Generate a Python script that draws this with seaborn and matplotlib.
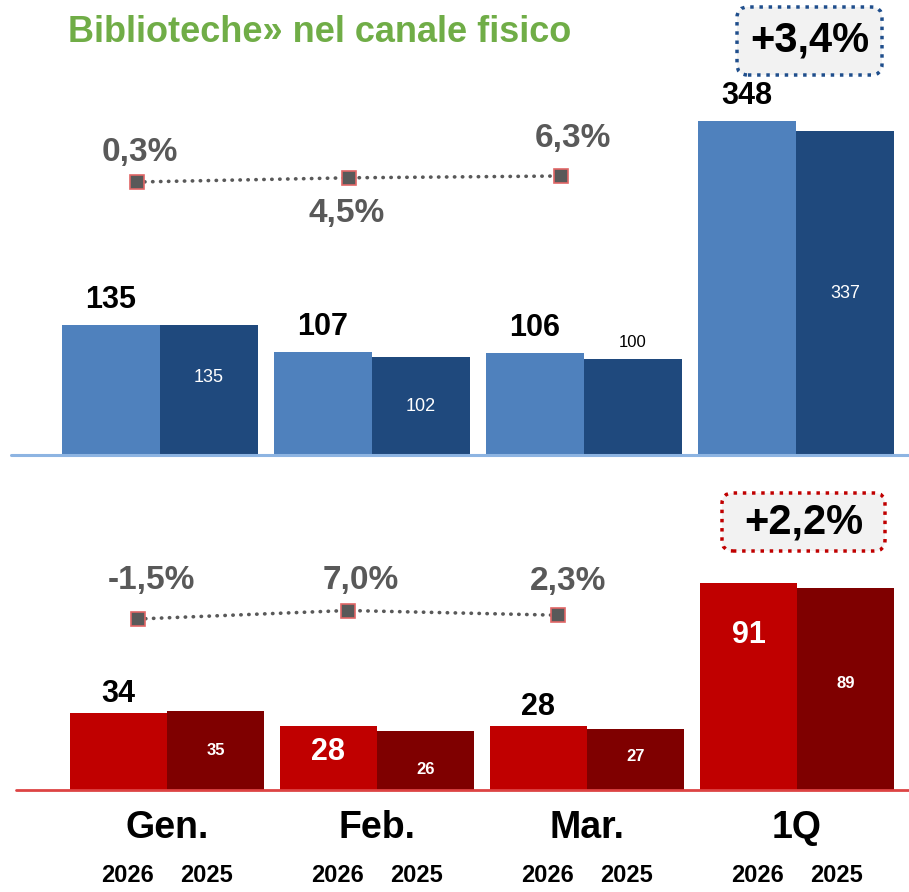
import matplotlib
matplotlib.use('Agg')
import matplotlib.pyplot as plt
from matplotlib.patches import FancyBboxPatch
import seaborn as sns
import pandas as pd

# dati
mesi = ['Gen.', 'Feb.', 'Mar.', '1Q']
anni = ['2026', '2025']
top_2026 = [135, 107, 106, 348]
top_2025 = [135, 102, 100, 337]
top_var = [0.3, 4.5, 6.3]
bot_2026 = [34, 28, 28, 91]
bot_2025 = [35, 26, 27, 89]
bot_var = [-1.5, 7.0, 2.3]
top_tot = '+3,4%'
bot_tot = '+2,2%'
titolo = 'Biblioteche» nel canale fisico'

sns.set_theme(style='white')
FONT = ['Liberation Sans', 'DejaVu Sans']
plt.rcParams['font.family'] = FONT

W, H = 909, 892
fig = plt.figure(figsize=(W / 100, H / 100), dpi=100)


def px_ax(left, top, right, bottom):
    return fig.add_axes([left / W, 1 - bottom / H, (right - left) / W, (bottom - top) / H])


def pct(v):
    return f'{v:.1f}%'.replace('.', ',')


def barre(ax, v26, v25, colori):
    df = pd.DataFrame({'mese': mesi * 2,
                       'anno': [anni[0]] * 4 + [anni[1]] * 4,
                       'valore': v26 + v25})
    sns.barplot(data=df, x='mese', y='valore', hue='anno', order=mesi,
                hue_order=anni, palette=colori, saturation=1, width=0.925,
                gap=0, legend=False, errorbar=None, linewidth=0, ax=ax)


def etichette(ax, cont, valori, stili):
    for bar, v, (anchor, dy, col, fs, fw) in zip(cont, valori, stili):
        cx = bar.get_x() + bar.get_width() / 2
        y = bar.get_height() if anchor == 'top' else bar.get_height() / 2
        ax.annotate(str(v), (cx, y), xytext=(0, dy), textcoords='offset pixels',
                    ha='center', va='center', color=col, fontsize=fs, fontweight=fw)


def linea(ax, var, dx, ylim, offs):
    ax2 = ax.twinx()
    xs = [i + dx for i in range(len(var))]
    sns.lineplot(x=xs, y=var, ax=ax2, color='#595959', lw=2.6,
                 linestyle=(0, (0.1, 2.1)), dash_capstyle='round',
                 marker='s', markersize=10, markerfacecolor='#595959',
                 markeredgecolor='#E06666', markeredgewidth=1.2)
    ax2.set_ylim(*ylim)
    ax2.axis('off')
    for x, v, (ox, oy) in zip(xs, var, offs):
        ax2.annotate(pct(v), (x, v), xytext=(ox, oy), textcoords='offset pixels',
                     ha='center', va='center', color='#595959', fontsize=24,
                     fontweight='bold')


# pannello superiore
ax = px_ax(11, 0, 909, 455)
barre(ax, top_2026, top_2025, ['#4F81BD', '#1F497D'])
ax.set_xlim(-0.703, 3.533)
ax.set_ylim(0, 473.5)
ax.axis('off')
ax.axhline(0, color='#8DB4E2', lw=2.2, clip_on=False)
etichette(ax, ax.containers[0], top_2026,
          [('top', 25, 'black', 22, 'bold')] * 4)
etichette(ax, ax.containers[1], top_2025,
          [('mid', 13, 'white', 13, 'normal'), ('mid', -1, 'white', 13, 'normal'),
           ('top', 16, 'black', 12, 'normal'), ('mid', 0, 'white', 13, 'normal')])
linea(ax, top_var, -0.11, (-272.7, 182.3), [(3, 30), (-2, -36), (12, 38)])

# pannello inferiore
bx = px_ax(16, 470, 909, 790)
barre(bx, bot_2026, bot_2025, ['#C00000', '#7F0000'])
bx.set_xlim(-0.719, 3.533)
bx.set_ylim(0, 141)
bx.axis('off')
bx.axhline(0, color='#DD4444', lw=2, clip_on=False)
etichette(bx, bx.containers[0], bot_2026,
          [('top', 19, 'black', 22, 'bold'), ('top', -26, 'white', 22, 'bold'),
           ('top', 19, 'black', 22, 'bold'), ('top', -52, 'white', 22, 'bold')])
etichette(bx, bx.containers[1], bot_2025,
          [('mid', 0, 'white', 12, 'bold'), ('mid', -9, 'white', 12, 'bold'),
           ('mid', 3, 'white', 12, 'bold'), ('mid', 6, 'white', 12, 'bold')])
linea(bx, bot_var, -0.14, (-172.5, 147.5), [(14, 39), (13, 30), (10, 34)])

# etichette categorie e anni
for i, m in enumerate(mesi):
    bx.annotate(m, (i, 0), xytext=(0, -38), textcoords='offset pixels',
                ha='center', va='center', fontsize=27, fontweight='bold', color='black')
    for j, a in enumerate(anni):
        bx.annotate(a, (i + (j - 0.5) * 0.38, 0), xytext=(0, -86), textcoords='offset pixels',
                    ha='center', va='center', fontsize=17, fontweight='bold', color='black')

# riquadri con variazione totale
for (x0, y0, x1, y1), txt, ec in [((737, 7, 882, 75), top_tot, '#1F4E8C'),
                                  ((722, 493, 885, 551), bot_tot, '#C00000')]:
    fig.patches.append(FancyBboxPatch((x0 / W, 1 - y1 / H), (x1 - x0) / W, (y1 - y0) / H,
                                      boxstyle='round,pad=0,rounding_size=0.012',
                                      fc='#F2F2F2', ec=ec, lw=2.5, ls=':',
                                      transform=fig.transFigure, figure=fig))
    fig.text((x0 + x1) / 2 / W, 1 - (y0 + y1) / 2 / H, txt, ha='center', va='center',
             fontsize=30, fontweight='bold', color='black')

# titolo
fig.text(68 / W, 1 - 33 / H, titolo, color='#70AD47', fontsize=26, fontweight='bold',
         va='center', ha='left')

fig.savefig('out.png', dpi=100)
